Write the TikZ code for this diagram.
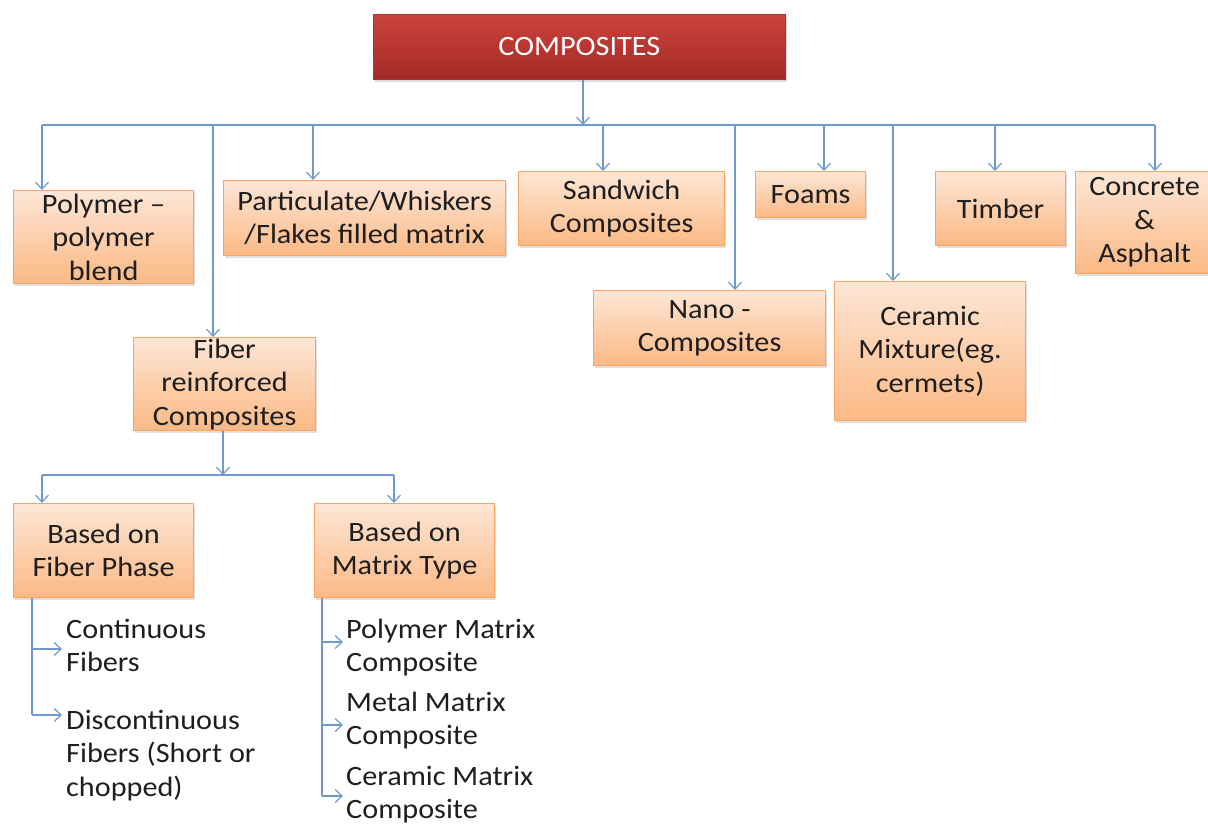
\documentclass[tikz,border=0pt]{standalone}
\usepackage{fontspec}
\setmainfont{Carlito}[FakeStretch=1.08]
\usetikzlibrary{arrows.meta,shadows}
\definecolor{conn}{HTML}{6F98CC}
\definecolor{otop}{HTML}{FDE6D6}
\definecolor{obot}{HTML}{FBB985}
\definecolor{oedge}{HTML}{F7A464}
\definecolor{rtop}{HTML}{CD423D}
\definecolor{rbot}{HTML}{A32A27}
\definecolor{txt}{HTML}{1E1E1E}
\tikzset{
  obox/.style={draw=oedge, line width=1.2pt, top color=otop, bottom color=obot,
    anchor=north west, inner sep=0pt, align=center, text=txt,
    drop shadow={opacity=0.25, shadow xshift=1.5pt, shadow yshift=-2.5pt}},
  rbox/.style={draw=rtop!80!black, line width=0.6pt, top color=rtop, bottom color=rbot,
    anchor=north west, inner sep=0pt, align=center, text=white,
    drop shadow={opacity=0.3, shadow xshift=1.5pt, shadow yshift=-2.5pt}},
  ltext/.style={anchor=base west, align=left, inner sep=0pt, text=txt},
  wire/.style={draw=conn, line width=1.3pt},
  arr/.style={wire, -{Straight Barb[length=7pt,width=13pt,line width=1.2pt]}},
}
\begin{document}
\begin{tikzpicture}[x=1pt,y=-1pt, font=\fontsize{28}{33.5}\selectfont]
\useasboundingbox (0,0) rectangle (1208,826);
% root
\node[rbox, minimum width=412pt, minimum height=65pt] (root) at (373,14) {COMPOSITES};
% level 1
\node[obox, minimum width=180pt, minimum height=93pt] (poly) at (13,190) {Polymer –\\polymer\\blend};
\node[obox, minimum width=282pt, minimum height=75pt] (part) at (223,180) {Particulate/Whiskers\\/Flakes filled matrix};
\node[obox, minimum width=182pt, minimum height=93pt] (fiber) at (133,337) {Fiber\\reinforced\\Composites};
\node[obox, minimum width=206pt, minimum height=74pt] (sand) at (518,171) {Sandwich\\Composites};
\node[obox, minimum width=232pt, minimum height=75pt] (nano) at (593,290) {Nano -\\Composites};
\node[obox, minimum width=110pt, minimum height=46pt] (foam) at (755,171) {Foams};
\node[obox, minimum width=191pt, minimum height=139pt] (cer) at (834,281) {Ceramic\\Mixture(eg.\\cermets)};
\node[obox, minimum width=130pt, minimum height=74pt] (timb) at (935,171) {Timber};
\node[obox, minimum width=138pt, minimum height=102pt] (conc) at (1075,171) {Concrete\\\&\\Asphalt};
% level 2
\node[obox, minimum width=180pt, minimum height=94pt] (fph) at (13,503) {Based on\\Fiber Phase};
\node[obox, minimum width=180pt, minimum height=94pt] (mty) at (314,503) {Based on\\Matrix Type};
% bus 1
\coordinate (bus) at (583,125);
\coordinate (bL) at (42,125);
\coordinate (bR) at (1155,125);
\draw[wire] (bL) -- (bR);
\draw[arr] (root.south -| bus) -- (bus);
\coordinate (b1) at (42,125);
\coordinate (b2) at (213,125);
\coordinate (b3) at (313,125);
\coordinate (b4) at (603,125);
\coordinate (b5) at (735,125);
\coordinate (b6) at (824,125);
\coordinate (b7) at (893,125);
\coordinate (b8) at (995,125);
\coordinate (b9) at (1155,125);
\draw[arr] (b1) -- (b1 |- poly.north);
\draw[arr] (b2) -- (b2 |- fiber.north);
\draw[arr] (b3) -- (b3 |- part.north);
\draw[arr] (b4) -- (b4 |- sand.north);
\draw[arr] (b5) -- (b5 |- nano.north);
\draw[arr] (b6) -- (b6 |- foam.north);
\draw[arr] (b7) -- (b7 |- cer.north);
\draw[arr] (b8) -- (b8 |- timb.north);
\draw[arr] (b9) -- (b9 |- conc.north);
% bus 2
\coordinate (c0) at (223,475);
\coordinate (c1) at (42,475);
\coordinate (c2) at (394,475);
\draw[wire] (c1) -- (c2);
\draw[arr] (fiber.south -| c0) -- (c0);
\draw[arr] (c1) -- (c1 |- fph.north);
\draw[arr] (c2) -- (c2 |- mty.north);
% left list (anchor = baseline of last line)
\node[ltext] (cont) at (66,671.5) {Continuous\\Fibers};
\node[ltext] (disc) at (66,796) {Discontinuous\\Fibers (Short or\\chopped)};
\coordinate (l0) at (32,597);
\coordinate (l1) at (32,649);
\coordinate (l2) at (32,715);
\draw[wire] (fph.south -| l0) -- (l2);
\draw[arr] (l1) -- ([xshift=-4pt]l1 -| cont.west);
\draw[arr] (l2) -- ([xshift=-4pt]l2 -| disc.west);
% right list
\node[ltext] (pmc) at (346,671.5) {Polymer Matrix\\Composite};
\node[ltext] (mmc) at (346,744.5) {Metal Matrix\\Composite};
\node[ltext] (cmc) at (346,818.5) {Ceramic Matrix\\Composite};
\coordinate (r0) at (322,597);
\coordinate (r1) at (322,642);
\coordinate (r2) at (322,725);
\coordinate (r3) at (322,796);
\draw[wire] (mty.south -| r0) -- (r3);
\draw[arr] (r1) -- ([xshift=-3pt]r1 -| pmc.west);
\draw[arr] (r2) -- ([xshift=-3pt]r2 -| mmc.west);
\draw[arr] (r3) -- ([xshift=-3pt]r3 -| cmc.west);
\end{tikzpicture}
\end{document}
